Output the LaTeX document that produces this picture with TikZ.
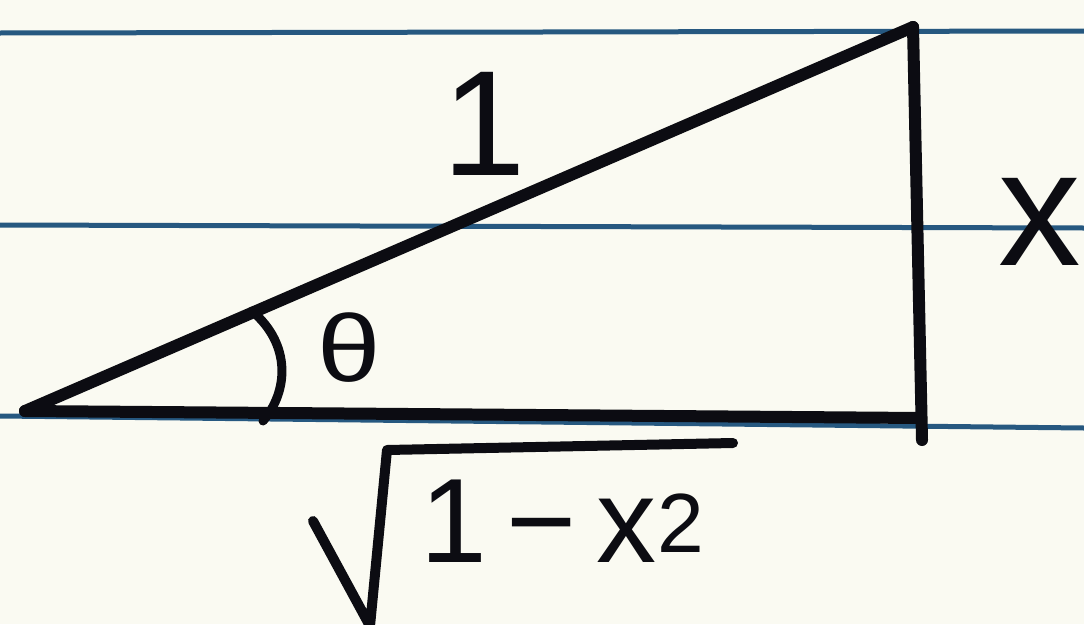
\documentclass[tikz,border=0pt]{standalone}
\usepackage{fontspec}
\setmainfont{Liberation Sans}
\definecolor{paper}{RGB}{250,250,242}
\definecolor{rule}{RGB}{38,88,128}
\definecolor{ink}{RGB}{12,12,18}
\begin{document}
\begin{tikzpicture}[x=1pt,y=-1pt,
  ruleline/.style={draw=rule,line width=5pt},
  side/.style={draw=ink,line width=12pt,line cap=round,line join=round},
  anglearc/.style={draw=ink,line width=9pt,line cap=round},
  radical/.style={draw=ink,line width=10pt,line cap=round,line join=round},
  hand/.style={text=ink,inner sep=0pt}]
\useasboundingbox (0,0) rectangle (1084,624);
\fill[paper] (0,0) rectangle (1084,624);
% notebook rules
\draw[ruleline] (0,33) -- (1084,31);
\draw[ruleline] (0,225) -- (1084,228);
\draw[ruleline] (0,416) -- (1084,428);
% triangle
\coordinate (A) at (25,411);
\coordinate (B) at (913,27);
\coordinate (C) at (921,418);
\coordinate (Cend) at (922,440);
\draw[side] (A) -- (B);
\draw[side] (A) -- (C);
\draw[side] (B) -- (Cend);
% angle arc
\coordinate (arcS) at (252,311);
\coordinate (arcE) at (263,421);
\draw[anglearc] (arcS) .. controls (292,345) and (288,392) .. (arcE);
% labels
\node[hand,font=\fontsize{150}{150}\selectfont] (one) at (484,124) {1};
\node[hand,font=\fontsize{95}{95}\selectfont,xscale=1.2] (theta) at (349,348) {θ};
\node[hand,font=\fontsize{165}{165}\selectfont] (xlab) at (1040,222) {x};
% radical
\coordinate (r1) at (313,521);
\coordinate (r2) at (370,626);
\coordinate (r3) at (387,450);
\coordinate (r4) at (733,443);
\draw[radical] (r1) -- (r2) -- (r3) -- (r4);
\node[hand,anchor=base west,font=\fontsize{120}{120}\selectfont] (under) at (420,562) {1\,−\,x\textsuperscript{2}};
\end{tikzpicture}
\end{document}
